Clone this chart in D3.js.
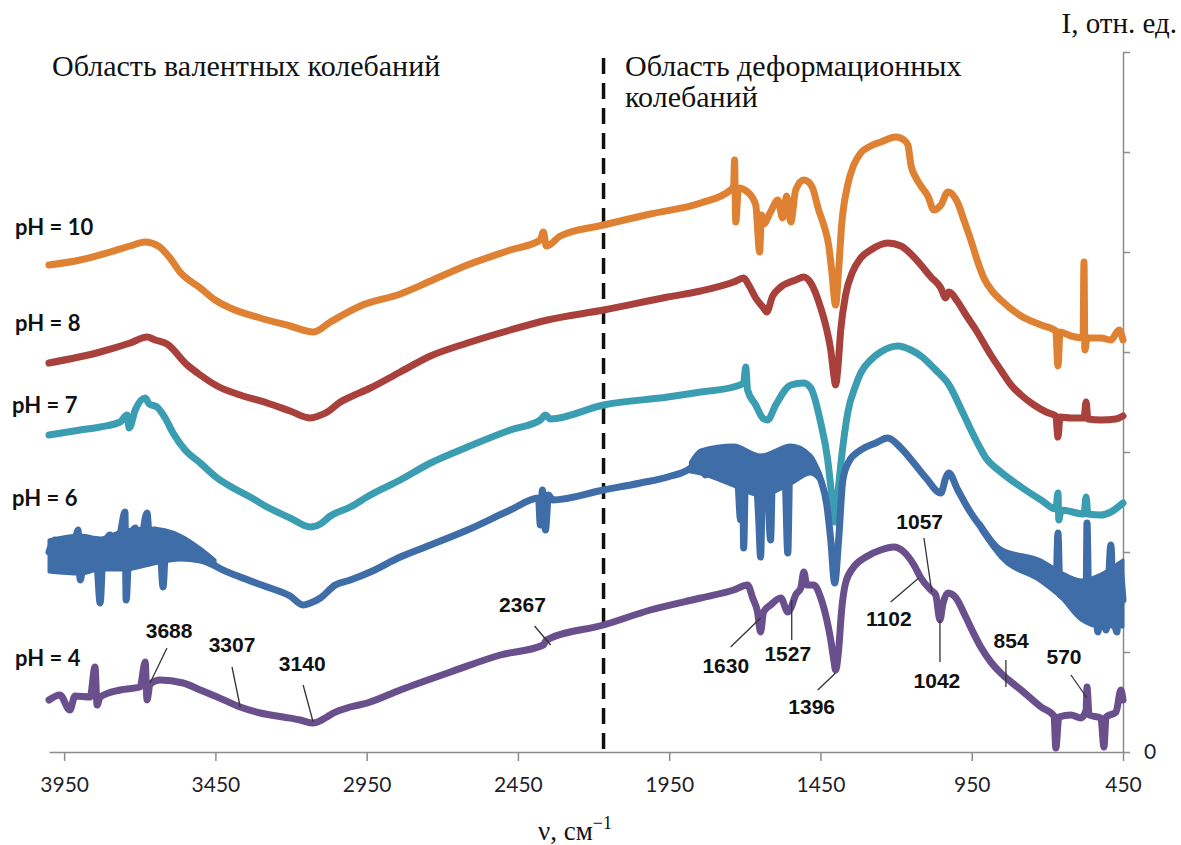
<!DOCTYPE html>
<html>
<head>
<meta charset="utf-8">
<script src="https://cdn.jsdelivr.net/npm/d3@7"></script>
<style>
  body { margin: 0; background: #fff; }
  .tick line, .domain { stroke: #8c8c8c; stroke-width: 1.5; }
  .xlab text { font-family: Lato, sans-serif; font-size: 21px; fill: #1f1f2a; }
  .ylab text { font-family: Lato, sans-serif; font-size: 21px; fill: #1f1f2a; }
  .serif { font-family: "Liberation Serif", "DejaVu Serif", serif; fill: #111; }
  .ph { font-family: Lato, sans-serif; font-weight: bold; font-size: 22px; fill: #111; }
  .ann { font-family: "Liberation Sans Narrow", "Liberation Sans", sans-serif; font-weight: bold; font-size: 21px; fill: #111; }
</style>
</head>
<body>
<svg id="chart" width="1181" height="845"></svg>
<script>
// spectra: [wavenumber, intensity]
const ph10 = [[4000,4.87],[3897,4.92],[3798,5.00],[3732,5.06],[3682,5.10],[3639,5.06],[3600,4.94],[3567,4.80],[3500,4.64],[3451,4.52],[3401,4.44],[3302,4.34],[3203,4.26],[3127,4.20],[3070,4.30],[2971,4.46],[2839,4.58],[2739,4.71],[2617,4.87],[2475,5.02],[2376,5.12],[2366,5.20],[2356,5.06],[2310,5.16],[2167,5.27],[2012,5.38],[1846,5.49],[1747,5.62],[1737,5.66],[1734,5.92],[1730,5.30],[1721,5.64],[1691,5.60],[1664,5.47],[1651,5.00],[1645,5.37],[1638,5.28],[1615,5.40],[1591,5.52],[1575,5.34],[1562,5.56],[1548,5.30],[1532,5.62],[1505,5.72],[1489,5.70],[1476,5.64],[1456,5.42],[1439,5.27],[1423,5.07],[1413,4.82],[1400,4.47],[1390,4.82],[1380,5.27],[1360,5.67],[1340,5.87],[1317,5.99],[1284,6.06],[1251,6.10],[1201,6.15],[1174,6.12],[1161,6.07],[1151,5.87],[1134,5.74],[1118,5.66],[1095,5.56],[1075,5.42],[1052,5.47],[1029,5.60],[1012,5.57],[996,5.49],[976,5.32],[953,5.12],[930,4.90],[910,4.74],[880,4.60],[854,4.52],[787,4.36],[721,4.27],[672,4.21],[665,3.86],[658,4.20],[622,4.16],[582,4.14],[579,4.90],[576,4.02],[569,4.14],[523,4.14],[490,4.12],[463,4.22],[450,4.12]];

const ph8 = [[4000,3.89],[3831,4.00],[3732,4.09],[3676,4.15],[3649,4.12],[3610,4.08],[3543,3.87],[3500,3.77],[3444,3.66],[3368,3.57],[3279,3.49],[3203,3.41],[3136,3.34],[3110,3.36],[3080,3.40],[3037,3.50],[3004,3.55],[2938,3.64],[2839,3.80],[2739,3.96],[2617,4.09],[2475,4.22],[2352,4.32],[2167,4.42],[1955,4.55],[1846,4.61],[1737,4.70],[1704,4.74],[1687,4.67],[1664,4.54],[1638,4.44],[1628,4.40],[1608,4.56],[1581,4.65],[1532,4.72],[1505,4.75],[1482,4.69],[1449,4.44],[1429,4.22],[1416,4.02],[1406,3.77],[1400,3.67],[1393,3.82],[1383,4.22],[1367,4.57],[1344,4.80],[1317,4.94],[1284,5.02],[1228,5.09],[1184,5.06],[1151,4.98],[1118,4.87],[1085,4.75],[1052,4.64],[1036,4.54],[1026,4.60],[996,4.50],[969,4.37],[936,4.22],[887,3.97],[854,3.82],[820,3.67],[787,3.57],[744,3.47],[704,3.40],[672,3.36],[665,3.15],[658,3.35],[622,3.34],[579,3.34],[572,3.50],[566,3.33],[523,3.32],[473,3.33],[450,3.36]];

const ph7 = [[4000,3.17],[3897,3.22],[3831,3.25],[3765,3.30],[3742,3.37],[3735,3.24],[3715,3.42],[3682,3.54],[3669,3.48],[3643,3.45],[3616,3.34],[3590,3.19],[3550,3.02],[3500,2.89],[3444,2.74],[3391,2.64],[3335,2.55],[3279,2.45],[3203,2.34],[3136,2.25],[3103,2.28],[3070,2.36],[3004,2.45],[2938,2.57],[2839,2.72],[2739,2.89],[2617,3.05],[2475,3.22],[2376,3.32],[2359,3.37],[2343,3.33],[2167,3.47],[1955,3.55],[1846,3.60],[1737,3.65],[1704,3.69],[1697,3.85],[1691,3.62],[1664,3.47],[1641,3.34],[1625,3.32],[1598,3.47],[1548,3.67],[1505,3.69],[1482,3.64],[1449,3.29],[1426,2.92],[1413,2.57],[1403,2.30],[1393,2.57],[1383,2.87],[1360,3.39],[1333,3.67],[1317,3.79],[1284,3.92],[1251,4.00],[1194,4.06],[1151,4.02],[1118,3.96],[1069,3.82],[1029,3.69],[976,3.37],[936,3.12],[903,2.94],[854,2.80],[787,2.65],[721,2.52],[672,2.43],[665,2.59],[662,2.32],[655,2.42],[579,2.38],[572,2.55],[566,2.38],[523,2.37],[490,2.40],[450,2.49]];

const ph6 = [[4000,2.00],[3980,2.12],[3964,1.92],[3944,2.07],[3924,1.92],[3904,2.22],[3897,1.72],[3881,2.04],[3858,2.12],[3841,1.87],[3831,1.49],[3821,2.02],[3798,2.17],[3778,1.97],[3762,2.22],[3749,2.40],[3745,1.52],[3735,2.07],[3715,2.24],[3699,2.07],[3676,2.39],[3666,2.04],[3649,2.22],[3633,2.07],[3623,1.65],[3613,2.12],[3593,2.04],[3557,2.05],[3500,1.97],[3444,1.85],[3368,1.75],[3279,1.65],[3203,1.56],[3160,1.47],[3136,1.49],[3103,1.54],[3054,1.67],[3004,1.72],[2938,1.80],[2839,1.95],[2739,2.07],[2617,2.22],[2475,2.42],[2382,2.54],[2376,2.27],[2369,2.62],[2359,2.22],[2349,2.57],[2336,2.52],[2167,2.62],[2045,2.69],[1955,2.75],[1879,2.84],[1846,2.94],[1830,2.77],[1806,3.00],[1787,2.82],[1763,3.04],[1737,3.00],[1724,2.77],[1714,2.32],[1707,2.82],[1704,2.04],[1697,2.87],[1681,2.72],[1664,2.77],[1654,2.32],[1648,1.95],[1641,2.72],[1628,2.82],[1615,2.12],[1608,2.82],[1588,2.92],[1568,2.82],[1558,1.99],[1551,2.90],[1532,2.97],[1505,2.92],[1476,2.87],[1449,2.72],[1429,2.47],[1416,2.12],[1403,1.69],[1390,2.12],[1376,2.72],[1357,2.90],[1317,3.02],[1267,3.09],[1228,3.14],[1184,3.04],[1144,2.90],[1101,2.74],[1052,2.59],[1036,2.74],[1026,2.79],[996,2.62],[959,2.42],[920,2.25],[854,1.99],[787,1.89],[744,1.82],[704,1.72],[672,1.62],[665,2.19],[658,1.57],[622,1.52],[595,1.40],[572,1.54],[569,2.29],[562,1.32],[543,1.52],[533,1.20],[523,1.54],[506,1.22],[490,2.07],[483,1.52],[470,1.20],[463,1.87],[450,1.52]];

// noise envelope of pH 6 in its noisiest stretches: [wavenumber, low, high]
const ph6NoiseLeft = [[4000,1.80,2.12],[3897,1.78,2.17],[3831,1.82,2.14],[3749,1.82,2.22],[3666,1.87,2.24],[3567,1.92,2.17],[3500,1.90,2.04],[3451,1.84,1.92]];
const ph6NoiseMid = [[1880,2.80,2.90],[1846,2.78,3.02],[1737,2.66,3.07],[1648,2.56,2.97],[1548,2.68,3.07],[1482,2.78,2.97],[1449,2.70,2.78]];
const ph6NoiseRight = [[920,2.21,2.29],[854,1.94,2.04],[721,1.70,1.92],[655,1.54,1.80],[589,1.32,1.72],[523,1.25,1.78],[450,1.25,1.92]];

const ph4 = [[4000,0.52],[3964,0.57],[3931,0.42],[3914,0.56],[3864,0.55],[3848,0.85],[3841,0.47],[3831,0.55],[3765,0.62],[3699,0.65],[3682,0.90],[3676,0.52],[3666,0.68],[3633,0.72],[3557,0.69],[3500,0.62],[3444,0.55],[3368,0.45],[3302,0.39],[3226,0.35],[3170,0.32],[3127,0.29],[3087,0.34],[3060,0.39],[3004,0.45],[2948,0.49],[2839,0.62],[2673,0.80],[2508,0.97],[2366,1.07],[2356,1.12],[2167,1.27],[2012,1.42],[1846,1.54],[1737,1.62],[1691,1.67],[1674,1.54],[1658,1.40],[1648,1.20],[1638,1.40],[1615,1.47],[1581,1.54],[1558,1.40],[1548,1.44],[1532,1.57],[1515,1.64],[1505,1.80],[1495,1.67],[1472,1.67],[1449,1.54],[1429,1.32],[1416,1.12],[1406,0.92],[1400,0.82],[1390,1.02],[1380,1.42],[1367,1.69],[1340,1.85],[1300,1.95],[1251,2.02],[1208,2.05],[1174,2.00],[1141,1.87],[1118,1.74],[1085,1.62],[1069,1.57],[1055,1.32],[1046,1.47],[1029,1.59],[1002,1.54],[976,1.39],[946,1.20],[920,1.05],[887,0.90],[854,0.79],[820,0.70],[787,0.62],[721,0.45],[678,0.36],[672,0.04],[662,0.35],[622,0.37],[589,0.34],[572,0.42],[569,0.65],[562,0.37],[523,0.34],[513,0.05],[506,0.35],[473,0.40],[457,0.62],[450,0.52]];

const seriesNames = ['pH = 10', 'pH = 8', 'pH = 7', 'pH = 6', 'pH = 4'];
const seriesData = [ph10, ph8, ph7, ph6, ph4];
const seriesColors = ['#df8132', '#a8403c', '#3b9db1', '#3f6da7', '#6a4f8d'];
// where each pH label sits: [wavenumber, intensity]
const labelAt = [[4112, 5.23], [4112, 4.27], [4122, 3.45], [4122, 2.52], [4112, 0.92]];

const xTicks = [3950, 3450, 2950, 2450, 1950, 1450, 950, 450];
const yTicks = [0, 1, 2, 3, 4, 5, 6, 7];
const boundary = 2167;

// peak labels on the pH 4 curve: text, tip, start of leader, label centre
const peaks = ['3688', '3307', '3140', '2367', '1630', '1527', '1396', '1102', '1057', '1042', '854', '570'];
const peakTip = [[3666,0.69],[3368,0.45],[3127,0.30],[2342,1.07],[1648,1.34],[1545,1.52],[1400,0.79],[1125,1.74],[1082,1.60],[1055,1.32],[837,0.65],[569,0.54]];
const peakFrom = [[3610,1.04],[3395,0.85],[3160,0.67],[2395,1.26],[1747,1.05],[1545,1.12],[1459,0.62],[1218,1.50],[1108,2.14],[1055,0.90],[837,0.92],[622,0.77]];
const peakLabel = [[3603,1.20],[3395,1.06],[3163,0.87],[2435,1.46],[1763,0.85],[1558,0.97],[1479,0.44],[1224,1.32],[1122,2.29],[1065,0.70],[820,1.10],[645,0.94]];

const width = 1181, height = 845;
const svg = d3.select('#chart');

const x = d3.scaleLinear().domain([4000, 450]).range([49, 1123]);
const y = d3.scaleLinear().domain([0, 7]).range([752, 52]);

// axes
svg.append('g')
  .attr('class', 'xlab')
  .attr('transform', 'translate(0,' + y(0) + ')')
  .call(d3.axisBottom(x).tickValues(xTicks).tickSize(9).tickSizeOuter(0).tickPadding(16).tickFormat(d3.format('d')));

svg.append('g')
  .attr('class', 'ylab')
  .attr('transform', 'translate(' + x(450) + ',0)')
  .call(d3.axisRight(y).tickValues(yTicks).tickSize(7).tickSizeOuter(0).tickPadding(14)
    .tickFormat(function (d) { return d === 0 ? '0' : ''; }));

// region boundary
svg.append('line')
  .attr('x1', x(boundary)).attr('x2', x(boundary))
  .attr('y1', 58).attr('y2', y(0))
  .attr('stroke', '#111')
  .attr('stroke-width', 3.5)
  .attr('stroke-dasharray', '16,9');

// pH 6 noise bands
const band = d3.area()
  .x(function (d) { return x(d[0]); })
  .y0(function (d) { return y(d[1]); })
  .y1(function (d) { return y(d[2]); })
  .curve(d3.curveMonotoneX);

svg.append('g')
  .selectAll('path')
  .data([ph6NoiseLeft, ph6NoiseMid, ph6NoiseRight])
  .join('path')
  .attr('d', band)
  .attr('fill', seriesColors[3])
  .attr('stroke', seriesColors[3])
  .attr('stroke-width', 3)
  .attr('stroke-linejoin', 'round');

// spectra
const line = d3.line()
  .x(function (d) { return x(d[0]); })
  .y(function (d) { return y(d[1]); })
  .curve(d3.curveMonotoneX);

svg.append('g')
  .selectAll('path')
  .data(seriesData)
  .join('path')
  .attr('d', line)
  .attr('fill', 'none')
  .attr('stroke', function (d, i) { return seriesColors[i]; })
  .attr('stroke-width', 7)
  .attr('stroke-linejoin', 'round')
  .attr('stroke-linecap', 'round');

// pH labels
svg.append('g')
  .selectAll('text')
  .data(seriesNames)
  .join('text')
  .attr('class', 'ph')
  .attr('x', function (d, i) { return x(labelAt[i][0]); })
  .attr('y', function (d, i) { return y(labelAt[i][1]); })
  .attr('dominant-baseline', 'middle')
  .text(function (d) { return d; });

// peak leaders and labels
const ann = svg.append('g');
ann.selectAll('line')
  .data(peaks)
  .join('line')
  .attr('x1', function (d, i) { return x(peakFrom[i][0]); })
  .attr('y1', function (d, i) { return y(peakFrom[i][1]); })
  .attr('x2', function (d, i) { return x(peakTip[i][0]); })
  .attr('y2', function (d, i) { return y(peakTip[i][1]); })
  .attr('stroke', '#333')
  .attr('stroke-width', 1.3);

ann.selectAll('text')
  .data(peaks)
  .join('text')
  .attr('class', 'ann')
  .attr('x', function (d, i) { return x(peakLabel[i][0]); })
  .attr('y', function (d, i) { return y(peakLabel[i][1]); })
  .attr('text-anchor', 'middle')
  .attr('dominant-baseline', 'middle')
  .text(function (d) { return d; });

// region titles and axis names
svg.append('text').attr('class', 'serif').attr('x', 52).attr('y', 76)
  .style('font-size', '30px').text('Область валентных колебаний');
svg.append('text').attr('class', 'serif').attr('x', 625).attr('y', 76)
  .style('font-size', '30px').text('Область деформационных');
svg.append('text').attr('class', 'serif').attr('x', 625).attr('y', 107)
  .style('font-size', '30px').text('колебаний');
svg.append('text').attr('class', 'serif').attr('x', 1177).attr('y', 33)
  .attr('text-anchor', 'end').style('font-size', '29px').text('I, отн. ед.');

const nu = svg.append('text').attr('class', 'serif').attr('x', 538).attr('y', 840)
  .style('font-size', '27px');
nu.append('tspan').text('ν, см');
nu.append('tspan').attr('dy', -11).style('font-size', '18px').text('−1');
</script>
</body>
</html>
